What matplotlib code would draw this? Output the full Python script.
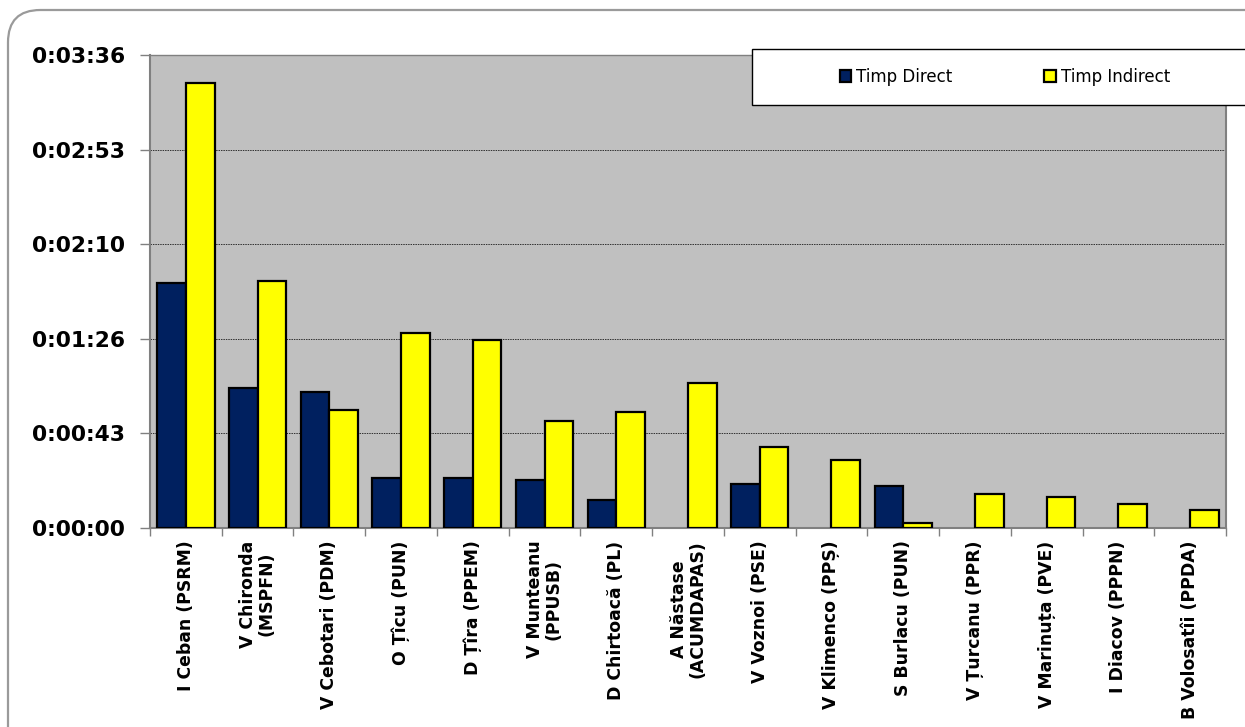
import numpy as np
import matplotlib
matplotlib.use("Agg")
import matplotlib.pyplot as plt
from matplotlib.patches import FancyBboxPatch, Rectangle
from matplotlib.ticker import FixedLocator, FuncFormatter

# candidates (tick labels)
candidates = [
    "I Ceban (PSRM)", "V Chironda\n(MSPFN)", "V Cebotari (PDM)", "O Țîcu (PUN)",
    "D Țîra (PPEM)", "V Munteanu\n(PPUSB)", "D Chirtoacă (PL)", "A Năstase\n(ACUMDAPAS)",
    "V Voznoi (PSE)", "V Klimenco (PPȘ)", "S Burlacu (PUN)", "V Țurcanu (PPR)",
    "V Marinuța (PVE)", "I Diacov (PPPN)", "B Volosatîi (PPDA)",
]
# seconds
timp_direct = [112, 64, 62, 23, 23, 22, 13, 0, 20, 0, 19, 0, 0, 0, 0]
timp_indirect = [203, 113, 54, 89, 86, 49, 53, 66, 37, 31, 2.3, 15.5, 14, 11, 8]
y_ticks = [0, 43.2, 86.4, 129.6, 172.8, 216]

W, H = 1245, 727
fig = plt.figure(figsize=(W / 100, H / 100), dpi=100)

# rounded outer frame (runs off the right / bottom edge)
frame = FancyBboxPatch((8 / W, -0.2), 1.2, 1 - 10 / H + 0.2,
                       boxstyle="round,pad=0,rounding_size=0.026",
                       transform=fig.transFigure, facecolor="white",
                       edgecolor="#9a9a9a", linewidth=1.6, mutation_aspect=W / H,
                       zorder=-10)
fig.patches.append(frame)

ax = fig.add_axes([150 / W, 1 - 528 / H, (1226 - 150) / W, (528 - 55) / H])
ax.set_facecolor("#c0c0c0")

x = np.arange(len(candidates))
w = 0.4
d = np.array(timp_direct, dtype=float)
ind = np.array(timp_indirect, dtype=float)
ec_d = ["black" if v > 0 else "none" for v in d]
ax.bar(x - w / 2, d, w, color="#00205f", edgecolor=ec_d, linewidth=1.6,
       label="Timp Direct", zorder=3)
ax.bar(x + w / 2, ind, w, color="#ffff00", edgecolor="black", linewidth=1.6,
       label="Timp Indirect", zorder=3)

ax.set_xlim(-0.5, len(candidates) - 0.5)
ax.set_ylim(0, 216)


def fmt(v, pos):
    s = int(round(v))
    return "%d:%02d:%02d" % (s // 3600, (s % 3600) // 60, s % 60)


ax.yaxis.set_major_locator(FixedLocator(y_ticks))
ax.yaxis.set_major_formatter(FuncFormatter(fmt))
ax.grid(axis="y", color="#303030", linestyle=(0, (1.5, 1)), linewidth=0.7, zorder=1)
ax.set_axisbelow(True)

# category labels at centres, tick marks at boundaries
ax.set_xticks(x)
ax.set_xticklabels(candidates, rotation=90, ha="center", va="top",
                   multialignment="center", fontsize=12.4, fontweight="bold",
                   linespacing=1.05)
ax.tick_params(axis="x", length=0, pad=9)
ax.set_xticks(np.arange(-0.5, len(candidates), 1.0), minor=True)
ax.tick_params(axis="x", which="minor", length=6, width=1, color="#808080", direction="out")
ax.tick_params(axis="y", length=7, width=1, color="#808080", direction="out",
               labelsize=15.7, pad=11)
for lab in ax.get_yticklabels():
    lab.set_fontweight("bold")

for side in ["left", "bottom", "right", "top"]:
    ax.spines[side].set_color("#808080")
    ax.spines[side].set_linewidth(1.5)
ax.spines["top"].set_linewidth(1.0)

# legend box
box = Rectangle((752 / W, 1 - 105 / H), 0.5, (105 - 49) / H,
                transform=fig.transFigure, facecolor="white", edgecolor="black",
                linewidth=1.0, zorder=5)
fig.patches.append(box)
leg = fig.legend(loc="center", bbox_to_anchor=(1005 / W, 1 - 77 / H), ncol=2,
                 frameon=False, fontsize=12, handlelength=0.7, handleheight=0.7,
                 handletextpad=0.3, columnspacing=5.5)
leg.set_zorder(6)

fig.savefig("out.png", dpi=100)
